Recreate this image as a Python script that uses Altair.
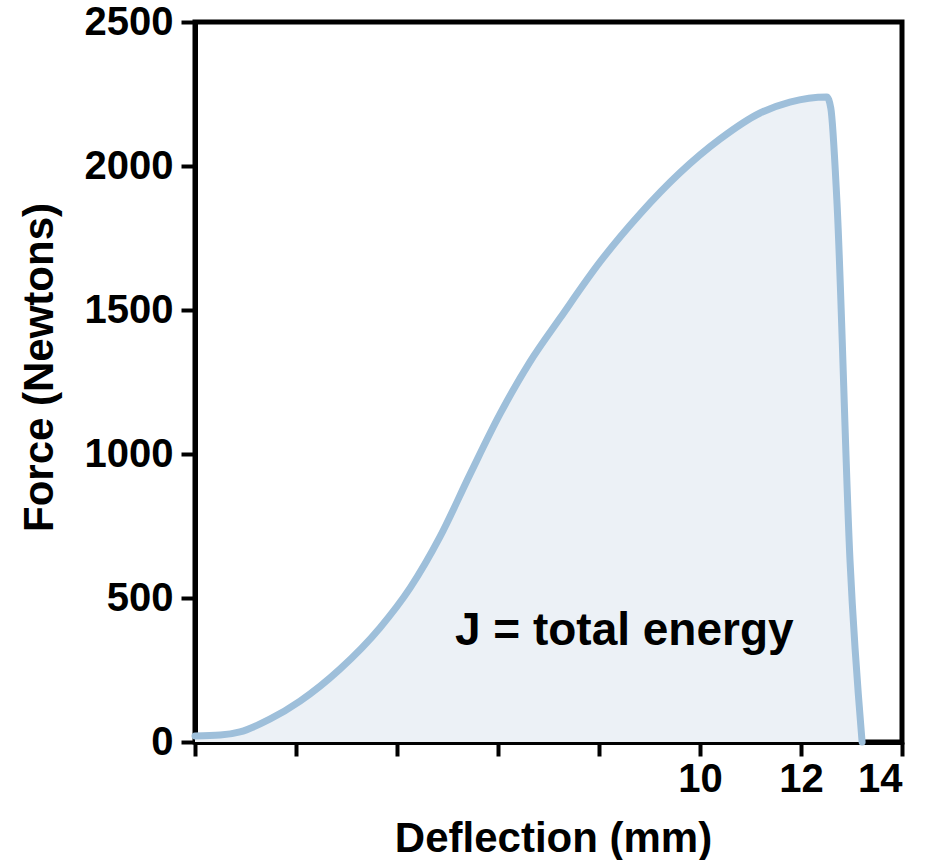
import altair as alt
import pandas as pd

# Force-deflection curve of a bending test
deflection_mm = [0.0, 0.5, 0.89, 1.49, 2.08, 2.87, 3.66, 4.26, 4.85, 5.45,
                 6.04, 6.63, 7.23, 8.02, 8.81, 9.60, 10.40, 11.19, 11.78,
                 12.51, 12.59, 12.71, 12.97, 13.21]
force_n = [21, 24, 35, 80, 142, 253, 396, 535, 712, 931,
           1139, 1319, 1472, 1667, 1833, 1976, 2094, 2184, 2222,
           2240, 2201, 1882, 632, 0]

x_ticks = [0, 2, 4, 6, 8, 10, 12, 14]
y_ticks = [0, 500, 1000, 1500, 2000, 2500]

annotation = ["J = total energy"]
annotation_x = [8.5]
annotation_y = [337]

FONT = "Liberation Sans"
LINE = "#9ebfda"
FILL = "#ecf1f6"

df = pd.DataFrame({"deflection": deflection_mm, "force": force_n})
ann = pd.DataFrame({"text": annotation, "x": annotation_x, "y": annotation_y})

x_enc = alt.X(
    "deflection:Q",
    scale=alt.Scale(domain=[0, 14], nice=False, zero=False),
    axis=alt.Axis(
        values=x_ticks,
        labelExpr="datum.value >= 10 ? datum.label : ''",
        title="Deflection (mm)",
        titleX=358,
        titleY=109,
        titleAlign="center",
        titleBaseline="alphabetic",
        labelPadding=3,
        grid=False,
    ),
)
y_enc = alt.Y(
    "force:Q",
    scale=alt.Scale(domain=[0, 2500], nice=False),
    axis=alt.Axis(
        values=y_ticks,
        format="d",
        title="Force (Newtons)",
        titleX=-143,
        titleY=345,
        titleAlign="center",
        titleBaseline="alphabetic",
        labelPadding=8,
        grid=False,
    ),
)

area = alt.Chart(df).mark_area(color=FILL, interpolate="monotone").encode(
    x=x_enc, y=y_enc
)
line = alt.Chart(df).mark_line(
    color=LINE, strokeWidth=7, strokeJoin="round", strokeCap="round",
    interpolate="monotone",
).encode(x="deflection:Q", y="force:Q")

label = alt.Chart(ann).mark_text(
    font=FONT, fontSize=46, fontWeight="bold", color="black",
    align="center", baseline="alphabetic",
).encode(x="x:Q", y="y:Q", text="text:N")

chart = alt.layer(area, line, label).properties(
    width=707,
    height=720,
    autosize=alt.AutoSizeParams(type="none"),
    padding={"left": 195, "top": 22, "right": 36, "bottom": 118},
).configure_view(
    stroke="black", strokeWidth=5,
).configure_axis(
    domainColor="black", domainWidth=5,
    tickColor="black", tickWidth=4, tickSize=14,
    labelFont=FONT, labelFontSize=40, labelFontWeight="bold", labelColor="black",
    titleFont=FONT, titleFontSize=42, titleFontWeight="bold", titleColor="black",
    zindex=1,
)

chart.save("out.html", embed_options={"renderer": "svg", "actions": False})
